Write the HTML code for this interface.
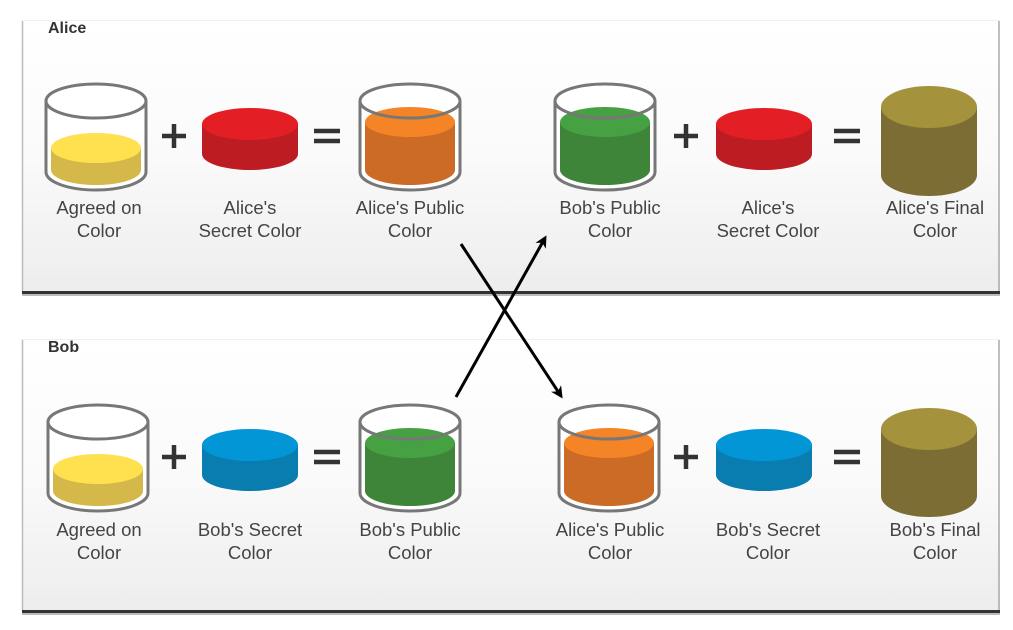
<!DOCTYPE html>
<html><head><meta charset="utf-8"><style>
html,body{margin:0;padding:0;background:#fff;width:1013px;height:630px;overflow:hidden}
svg{display:block}
text{font-family:"Liberation Sans",sans-serif}
</style></head><body>
<svg id="d" width="1013" height="630" viewBox="0 0 1013 630">
<defs>
<linearGradient id="pg" x1="0" y1="0" x2="0" y2="1"><stop offset="0" stop-color="#ffffff"/><stop offset="0.5" stop-color="#fafafa"/><stop offset="1" stop-color="#ededed"/></linearGradient>
<marker id="ah" markerWidth="12" markerHeight="12" refX="9" refY="6" orient="auto" markerUnits="userSpaceOnUse" viewBox="0 0 12 12"><path d="M0,0 L12,6 L0,12 L3.5,6 Z" fill="#000"/></marker>
</defs>
</svg>
<script>
const NS='http://www.w3.org/2000/svg';
const svg=document.getElementById('d');
function mk(tag,attrs,parent){const e=document.createElementNS(NS,tag);for(const k in attrs)e.setAttribute(k,attrs[k]);(parent||svg).appendChild(e);return e;}
function cyl(g,cx,rx,ty,by,ry,top,side){
  mk('path',{d:`M${cx-rx},${ty} L${cx-rx},${by} A${rx},${ry} 0 0 0 ${cx+rx},${by} L${cx+rx},${ty} Z`,fill:side},g);
  mk('ellipse',{cx:cx,cy:ty,rx:rx,ry:ry,fill:top},g);
}
function beaker(g,cx,ty,liqTop,top,side){
  mk('ellipse',{cx:cx,cy:ty,rx:50,ry:17,fill:'#fff'},g);
  mk('path',{d:`M${cx-50},${ty} L${cx-50},${ty+71} A50,18 0 0 0 ${cx+50},${ty+71} L${cx+50},${ty} Z`,fill:'#fff'},g);
  cyl(g,cx,45,liqTop,ty+69,15,top,side);
  mk('path',{d:`M${cx-50},${ty} L${cx-50},${ty+71} A50,18 0 0 0 ${cx+50},${ty+71} L${cx+50},${ty}`,fill:'none',stroke:'#777','stroke-width':3},g);
  mk('ellipse',{cx:cx,cy:ty,rx:50,ry:17,fill:'none',stroke:'#777','stroke-width':3},g);
}
function label(g,x,y,l1,l2,name){
  const t=mk('text',{x:x,y:y,'text-anchor':'middle','font-size':18.5,fill:'#444'},g);
  
  
  const a=mk('tspan',{x:x,dy:0},t);a.textContent=l1;
  const b=mk('tspan',{x:x,dy:23},t);b.textContent=l2;
}
function plus(g,x,y){mk('path',{d:`M${x-12},${y} H${x+12} M${x},${y-12} V${y+12}`,stroke:'#333','stroke-width':4.5},g);}
function eq(g,x,y){mk('path',{d:`M${x-13},${y-5} H${x+13} M${x-13},${y+5} H${x+13}`,stroke:'#333','stroke-width':4.5},g);}

const C={yel:['#ffe04f','#d4b94a'],red:['#e31e25','#bd1c22'],ora:['#f58426','#cc6b25'],grn:['#45a142','#3e853a'],blu:['#0396d6','#0a7db0'],fin:['#a4923c','#7b6d34']};

function panel(name,title,oy,items){
  const g=mk('g',{});
  
  
  mk('rect',{x:22,y:oy+20,width:978,height:273,fill:'url(#pg)'},g);
  mk('line',{x1:22.5,y1:oy+20,x2:22.5,y2:oy+292,stroke:'#bbb','stroke-width':1.5},g);
  mk('line',{x1:999,y1:oy+20,x2:999,y2:oy+292,stroke:'#aaa','stroke-width':1.5},g);
  mk('line',{x1:22,y1:oy+20.5,x2:1000,y2:oy+20.5,stroke:'#f0f0f0','stroke-width':1},g);
  mk('rect',{x:22,y:oy+291,width:978,height:3,fill:'#333'},g);
  mk('rect',{x:22,y:oy+294,width:978,height:2,fill:'#bbb'},g);
  const t=mk('text',{x:48,y:oy+33,'font-size':16,'font-weight':'bold',fill:'#333'},g);
  
  
  t.textContent=title;
  items(g,oy);
}
panel('alice-panel','Alice',0,(g,o)=>{
  beaker(g,96,o+101,o+148,...C.yel);
  plus(g,174,o+136);
  cyl(g,250,48,o+124,o+154,16,...C.red);
  eq(g,327,o+136);
  beaker(g,410,o+101,o+122,...C.ora);
  beaker(g,605,o+101,o+122,...C.grn);
  plus(g,686,o+136);
  cyl(g,764,48,o+124,o+154,16,...C.red);
  eq(g,847,o+136);
  cyl(g,929,48,o+107,o+175,21,...C.fin);
  label(g,99,o+214,'Agreed on','Color','alice-agreed-label');
  label(g,250,o+214,"Alice's",'Secret Color','alice-secret-label');
  label(g,410,o+214,"Alice's Public",'Color','alice-public-label');
  label(g,610,o+214,"Bob's Public",'Color','bob-public-received-label');
  label(g,768,o+214,"Alice's",'Secret Color','alice-secret-label-2');
  label(g,935,o+214,"Alice's Final",'Color','alice-final-label');
});
panel('bob-panel','Bob',319,(g,o)=>{
  const q=o+2;
  beaker(g,98,q+101,q+148,...C.yel);
  plus(g,174,q+136);
  cyl(g,250,48,q+124,q+154,16,...C.blu);
  eq(g,327,q+136);
  beaker(g,410,q+101,q+122,...C.grn);
  beaker(g,609,q+101,q+122,...C.ora);
  plus(g,686,q+136);
  cyl(g,764,48,q+124,q+154,16,...C.blu);
  eq(g,847,q+136);
  cyl(g,929,48,q+108,q+175,21,...C.fin);
  label(g,99,o+217,'Agreed on','Color','bob-agreed-label');
  label(g,250,o+217,"Bob's Secret",'Color','bob-secret-label');
  label(g,410,o+217,"Bob's Public",'Color','bob-public-label');
  label(g,610,o+217,"Alice's Public",'Color','alice-public-received-label');
  label(g,768,o+217,"Bob's Secret",'Color','bob-secret-label-2');
  label(g,935,o+217,"Bob's Final",'Color','bob-final-label');
});
const a1=mk('line',{x1:461,y1:244,x2:561,y2:396,stroke:'#000','stroke-width':3,'marker-end':'url(#ah)'});


const a2=mk('line',{x1:456,y1:397,x2:545,y2:238,stroke:'#000','stroke-width':3,'marker-end':'url(#ah)'});


</script>
</body></html>
